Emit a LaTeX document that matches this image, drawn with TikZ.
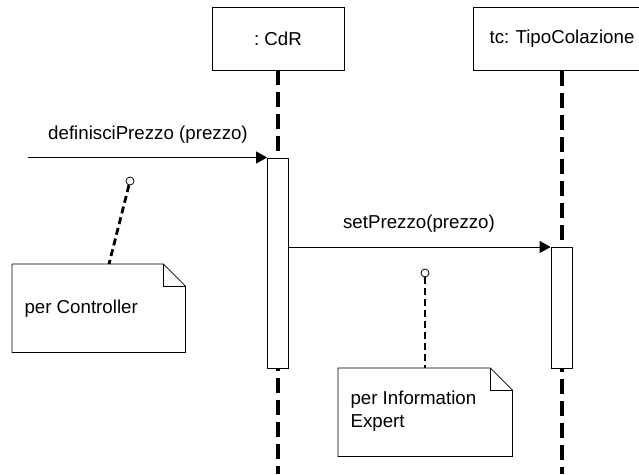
\documentclass[tikz,border=0pt]{standalone}
\usepackage{fontspec}
\setmainfont{Liberation Sans}
\usetikzlibrary{arrows.meta}
\frenchspacing
\tikzset{
  objbox/.style={draw, line width=0.8pt, fill=white, minimum height=63pt, inner sep=0pt},
  lifeline/.style={line width=3.2pt, dash pattern=on 15pt off 7pt},
  actbar/.style={draw, line width=0.8pt, fill=white, minimum width=21pt, inner sep=0pt, anchor=north},
  msg/.style={line width=0.8pt, -{Triangle[length=11pt,width=12pt]}},
  msglabel/.style={font=\fontsize{18.7}{22}\selectfont, anchor=base},
  notebox/.style={minimum width=#1, inner sep=0pt, anchor=north west},
  noteline/.style={line width=0.8pt},
  anchorline/.style={line width=2.8pt, dash pattern=on 7pt off 4pt},
  notetext/.style={font=\fontsize{18.7}{23}\selectfont, align=left, anchor=west},
  pin/.style={circle, draw, line width=0.8pt, fill=white, minimum size=8pt, inner sep=0pt}
}
\begin{document}
\begin{tikzpicture}[x=1pt,y=-1pt]
\useasboundingbox (0,0) rectangle (639,474);

% object boxes
\node[objbox, minimum width=132pt, font=\fontsize{18.7}{22}\selectfont] (cdr) at (278,38.5) {: CdR};
\node[objbox, minimum width=178pt, font=\fontsize{18.7}{22}\selectfont, text width=150pt, align=center] (tc) at (562,39) {tc: TipoColazione};

% lifelines
\coordinate (cdrEnd) at (278,474);
\coordinate (tcEnd) at (562,474);
\draw[lifeline] (cdr.south) -- (cdrEnd);
\draw[lifeline] (tc.south) -- (tcEnd);

% activation bars
\node[actbar, minimum height=210pt] (act1) at (278,157.5) {};
\node[actbar, minimum height=121pt] (act2) at (561.5,247) {};

% messages
\coordinate (start) at (28,157.5);
\draw[msg] (start) -- (act1.north west);
\node[msglabel] (m1) at (148,139) {definisciPrezzo (prezzo)};
\draw[msg] (act1.east |- act2.north) -- (act2.north west);
\node[msglabel] (m2) at (419,228) {setPrezzo(prezzo)};

% note: per Controller
\node[notebox=173pt, minimum height=88pt] (n1) at (12,264) {};
\draw[noteline, fill=white] (n1.north west) -- ([xshift=-22pt]n1.north east) -- ([yshift=-22pt]n1.north east)
  -- (n1.south east) -- (n1.south west) -- cycle;
\draw[noteline] ([xshift=-22pt]n1.north east) |- ([yshift=-22pt]n1.north east);
\node[notetext] (t1) at (21,309) {per Controller};
\node[pin] (p1) at (130,181) {};
\coordinate (n1a) at (109,264);
\draw[anchorline] (p1) -- (n1a);

% note: per Information Expert
\node[notebox=174pt, minimum height=88pt] (n2) at (338,368) {};
\draw[noteline, fill=white] (n2.north west) -- ([xshift=-22pt]n2.north east) -- ([yshift=-22pt]n2.north east)
  -- (n2.south east) -- (n2.south west) -- cycle;
\draw[noteline] ([xshift=-22pt]n2.north east) |- ([yshift=-22pt]n2.north east);
\node[notetext] (t2) at (347,411) {per Information\\Expert};
\node[pin] (p2) at (425,273) {};
\coordinate (n2a) at (425,368);
\draw[anchorline] (p2) -- (n2a);
\end{tikzpicture}
\end{document}
